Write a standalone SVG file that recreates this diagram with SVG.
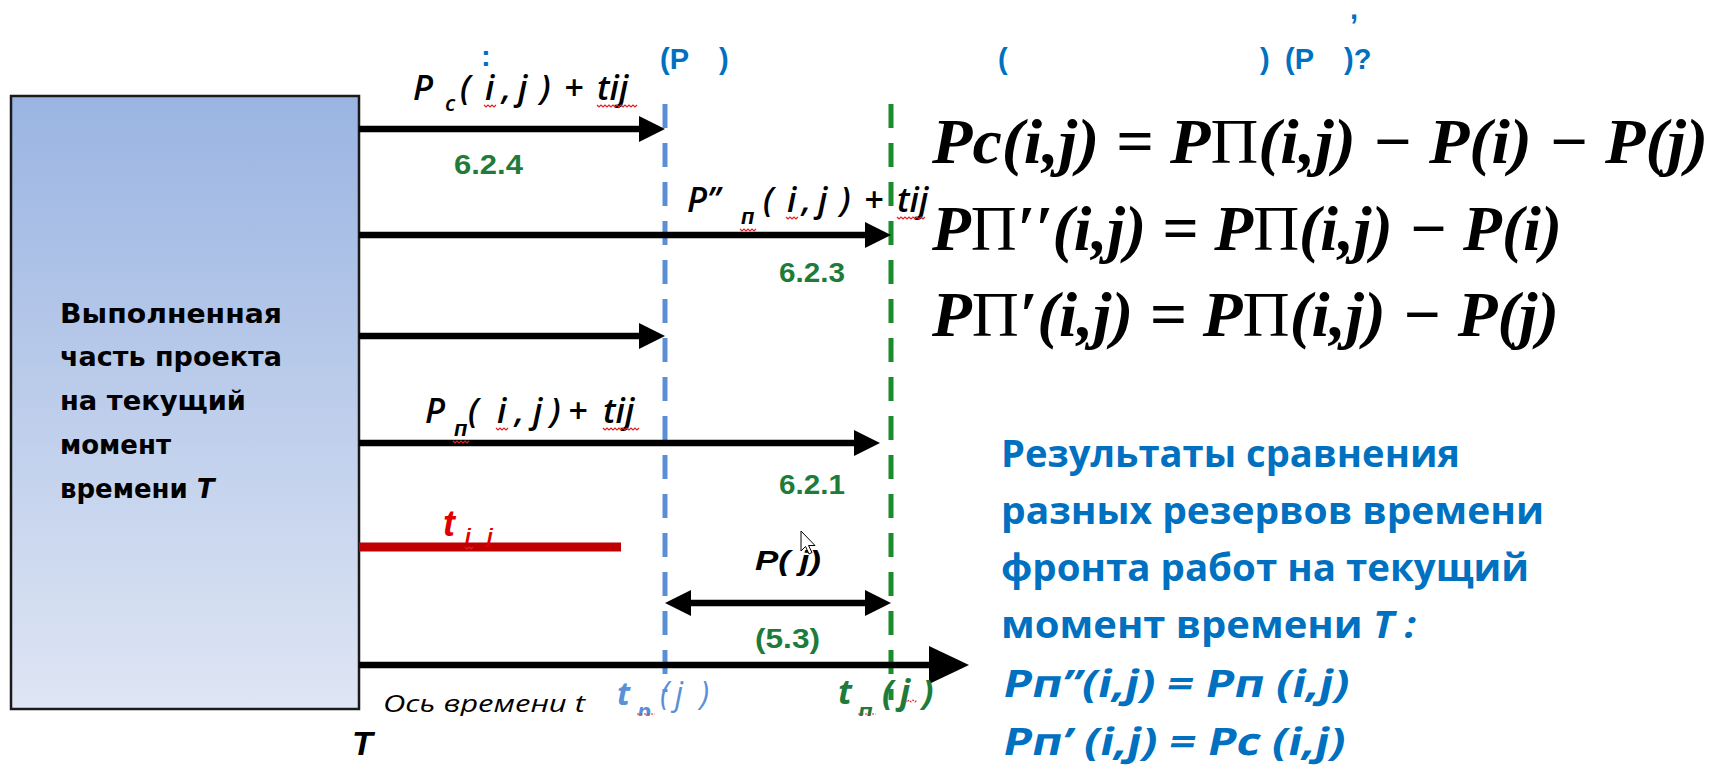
<svg xmlns="http://www.w3.org/2000/svg" width="1715" height="775" viewBox="0 0 1715 775">
<defs>
<linearGradient id="boxg" x1="0" y1="0" x2="0" y2="1">
<stop offset="0" stop-color="#9ab4e2"/>
<stop offset="1" stop-color="#dfe6f4"/>
</linearGradient>
<clipPath id="cut"><rect x="0" y="0" width="1000" height="716"/></clipPath>
<marker id="ah" viewBox="0 0 26 26" refX="12" refY="13" markerWidth="26" markerHeight="26" markerUnits="userSpaceOnUse" orient="auto-start-reverse">
<path d="M0,0 L26,13 L0,26 z" fill="#000"/>
</marker>
<marker id="ahBig" viewBox="0 0 40 38" refX="12" refY="19" markerWidth="40" markerHeight="38" markerUnits="userSpaceOnUse" orient="auto">
<path d="M0,0 L40,19 L0,38 z" fill="#000"/>
</marker>
<style>
.arrow{stroke:#000;stroke-width:6.5;fill:none}
.lbl{font-family:"Open Sans","Liberation Sans",sans-serif;font-style:italic;font-weight:600;font-size:34px;fill:#000}
.sub{font-size:22px}
.cy{font-family:"Liberation Sans",Arial,sans-serif;font-weight:bold}
.num{font-family:"Liberation Sans",Arial,sans-serif;font-weight:bold;font-size:27px;fill:#1e7b3a}
.boxt{font-family:"DejaVu Sans",Verdana,sans-serif;font-weight:bold;font-size:26px;fill:#000}
.head{font-family:"Liberation Sans",Arial,sans-serif;font-weight:bold;font-size:29px;fill:#0070c0}
.res{font-family:"Open Sans","Liberation Sans",sans-serif;font-weight:bold;font-size:38px;fill:#0070c0}
.resi{font-style:italic}
.f{font-family:"Liberation Serif","Times New Roman",serif;font-weight:bold;font-style:italic;font-size:64px;fill:#000}
.up{font-style:normal;font-weight:normal}
.sq{fill:none;stroke:#d22;stroke-width:1.2}
</style>
</defs>
<rect width="1715" height="775" fill="#fff"/>

<g id="done-box">
<rect x="11" y="96" width="348" height="613" fill="url(#boxg)" stroke="#1a1a1a" stroke-width="2.5"/>
<text class="boxt" x="60" y="323" textLength="222" lengthAdjust="spacingAndGlyphs">Выполненная</text>
<text class="boxt" x="60" y="366" textLength="222" lengthAdjust="spacingAndGlyphs">часть проекта</text>
<text class="boxt" x="60" y="410" textLength="186" lengthAdjust="spacingAndGlyphs">на текущий</text>
<text class="boxt" x="60" y="454">момент</text>
<text class="boxt" x="60" y="498">времени <tspan font-style="italic">T</tspan></text>
</g>

<g id="dashed-lines">
<line id="tp-line" x1="665" y1="104" x2="665" y2="692" stroke="#5a8fd6" stroke-width="5" stroke-dasharray="24 15"/>
<line id="tn-line" x1="891" y1="104" x2="891" y2="700" stroke="#1a8c2c" stroke-width="5" stroke-dasharray="24 15"/>
</g>

<g id="connectors">
<line class="arrow" x1="359" y1="129" x2="651" y2="129" marker-end="url(#ah)"/>
<line class="arrow" x1="359" y1="235" x2="877" y2="235" marker-end="url(#ah)"/>
<line class="arrow" x1="359" y1="336" x2="651" y2="336" marker-end="url(#ah)"/>
<line class="arrow" x1="359" y1="443" x2="866" y2="443" marker-end="url(#ah)"/>
<line x1="359" y1="547" x2="621" y2="547" stroke="#c00000" stroke-width="9"/>
<line class="arrow" x1="679" y1="603" x2="877" y2="603" marker-start="url(#ah)" marker-end="url(#ah)"/>
<line x1="359" y1="665" x2="941" y2="665" stroke="#000" stroke-width="6.5" marker-end="url(#ahBig)"/>
</g>

<g id="arrow-labels">
<text class="lbl"><tspan x="413" y="100">P</tspan><tspan class="sub" x="445" y="111">c</tspan><tspan x="460" y="100">(</tspan><tspan x="485">i</tspan><tspan x="502">,</tspan><tspan x="518">j</tspan><tspan x="540">)</tspan><tspan x="564">+</tspan><tspan x="597">tij</tspan></text>
<path class="sq" d="M484,105 l2,2 2,-2 2,2 2,-2 2,2 2,-2 M597,105 l2,2 2,-2 2,2 2,-2 2,2 2,-2 2,2 2,-2 2,2 2,-2 2,2 2,-2 2,2 2,-2 2,2 2,-2 2,2 2,-2 2,2 2,-2"/>
<text class="num" x="454" y="174" textLength="69" lengthAdjust="spacingAndGlyphs">6.2.4</text>

<text class="lbl"><tspan x="687" y="212">P’’</tspan><tspan class="sub cy" x="741" y="224">п</tspan><tspan x="763" y="212">(</tspan><tspan x="787">i</tspan><tspan x="802">,</tspan><tspan x="818">j</tspan><tspan x="840">)</tspan><tspan x="864">+</tspan><tspan x="897">tij</tspan></text>
<path class="sq" d="M740,229 l2,2 2,-2 2,2 2,-2 2,2 2,-2 2,2 2,-2 M786,217 l2,2 2,-2 2,2 2,-2 2,2 2,-2 M897,217 l2,2 2,-2 2,2 2,-2 2,2 2,-2 2,2 2,-2 2,2 2,-2 2,2 2,-2 2,2 2,-2"/>
<text class="num" x="779" y="282" textLength="66" lengthAdjust="spacingAndGlyphs">6.2.3</text>

<text class="lbl"><tspan x="425" y="423">P</tspan><tspan class="sub cy" x="454" y="436">п</tspan><tspan x="468" y="423">(</tspan><tspan x="497">i</tspan><tspan x="515">,</tspan><tspan x="533">j</tspan><tspan x="550">)</tspan><tspan x="568">+</tspan><tspan x="603">tij</tspan></text>
<path class="sq" d="M453,441 l2,2 2,-2 2,2 2,-2 2,2 2,-2 2,2 2,-2 M496,428 l2,2 2,-2 2,2 2,-2 2,2 2,-2 M603,428 l2,2 2,-2 2,2 2,-2 2,2 2,-2 2,2 2,-2 2,2 2,-2 2,2 2,-2 2,2 2,-2 2,2 2,-2 2,2 2,-2"/>
<text class="num" x="779" y="494" textLength="66" lengthAdjust="spacingAndGlyphs">6.2.1</text>

<text font-family="Liberation Sans,Arial,sans-serif" font-style="italic" font-weight="bold" fill="#e00000"><tspan x="443" y="536" font-size="36">t</tspan><tspan x="465" y="543" font-size="21">i</tspan><tspan x="487" y="543" font-size="21">j</tspan></text>
<path class="sq" d="M465,547 l2,2 2,-2 2,2 2,-2"/>
<text font-family="Liberation Sans,Arial,sans-serif" font-style="italic" font-weight="bold" font-size="28" x="755" y="570" textLength="66" lengthAdjust="spacingAndGlyphs">P( j)</text>
<path d="M801,531 l0,20 4.5,-4.5 3.5,7.5 3,-1.5 -3.5,-7 6.5,0 z" fill="#fff" stroke="#000" stroke-width="1"/>
<text class="num" x="755" y="648" textLength="65" lengthAdjust="spacingAndGlyphs">(5.3)</text>

<g clip-path="url(#cut)">
<text font-family="Open Sans,Liberation Sans,sans-serif" font-style="italic" font-size="23" x="383" y="712" textLength="202" lengthAdjust="spacingAndGlyphs">Ось времени t</text>
<text font-family="Open Sans,Liberation Sans,sans-serif" font-style="italic" font-size="32" fill="#5b8fd8"><tspan x="617" y="705" font-weight="bold">t</tspan><tspan x="637" y="720" font-size="24" font-weight="bold">p</tspan><tspan x="660" y="705">(</tspan><tspan x="675">j</tspan><tspan x="700">)</tspan></text>
<text font-family="Open Sans,Liberation Sans,sans-serif" font-style="italic" font-weight="bold" font-size="34" fill="#1e7b3a"><tspan x="838" y="704">t</tspan><tspan class="cy" x="858" y="720" font-size="24">п</tspan><tspan x="882" y="704">(</tspan><tspan x="900">j</tspan><tspan x="922">)</tspan></text>
<path class="sq" d="M637,714 h18 M858,714 h18 M905,700 l2,2 2,-2 2,2 2,-2 2,2 2,-2" stroke-dasharray="2 1.5"/>
</g>
<text font-family="Liberation Sans,Arial,sans-serif" font-style="italic" font-weight="bold" font-size="34" x="352" y="755">T</text>
</g>

<g id="heading">
<text class="head" x="481" y="66">:</text>
<text class="head" x="660" y="69">(P</text>
<text class="head" x="719" y="69">)</text>
<text class="head" x="998" y="69">(</text>
<text class="head" x="1260" y="69">)</text>
<text class="head" x="1285" y="69">(P</text>
<text class="head" x="1344" y="69">)?</text>
<text class="head" x="1350" y="19" font-size="32">,</text>
</g>

<g id="formulas">
<text class="f" x="932" y="163" textLength="776" lengthAdjust="spacingAndGlyphs">Pc(i,j) = P<tspan class="up">Π</tspan>(i,j) − P(i) − P(j)</text>
<text class="f" x="932" y="250" textLength="630" lengthAdjust="spacingAndGlyphs">P<tspan class="up">Π</tspan>′′(i,j) = P<tspan class="up">Π</tspan>(i,j) − P(i)</text>
<text class="f" x="932" y="336" textLength="627" lengthAdjust="spacingAndGlyphs">P<tspan class="up">Π</tspan>′(i,j) = P<tspan class="up">Π</tspan>(i,j) − P(j)</text>
</g>

<g id="results">
<text class="res" x="1001" y="467" textLength="459" lengthAdjust="spacingAndGlyphs">Результаты сравнения</text>
<text class="res" x="1001" y="524" textLength="543" lengthAdjust="spacingAndGlyphs">разных резервов времени</text>
<text class="res" x="1001" y="581" textLength="528" lengthAdjust="spacingAndGlyphs">фронта работ на текущий</text>
<text class="res" x="1001" y="638" textLength="415" lengthAdjust="spacingAndGlyphs">момент времени <tspan class="resi">T :</tspan></text>
<text class="res" transform="translate(1001 697) skewX(-12)" x="0" y="0" textLength="346" lengthAdjust="spacingAndGlyphs">Рп’’(i,j) = Рп (i,j)</text>
<text class="res" transform="translate(1001 755) skewX(-12)" x="0" y="0" textLength="342" lengthAdjust="spacingAndGlyphs">Рп’ (i,j) = Рс (i,j)</text>
</g>
</svg>
